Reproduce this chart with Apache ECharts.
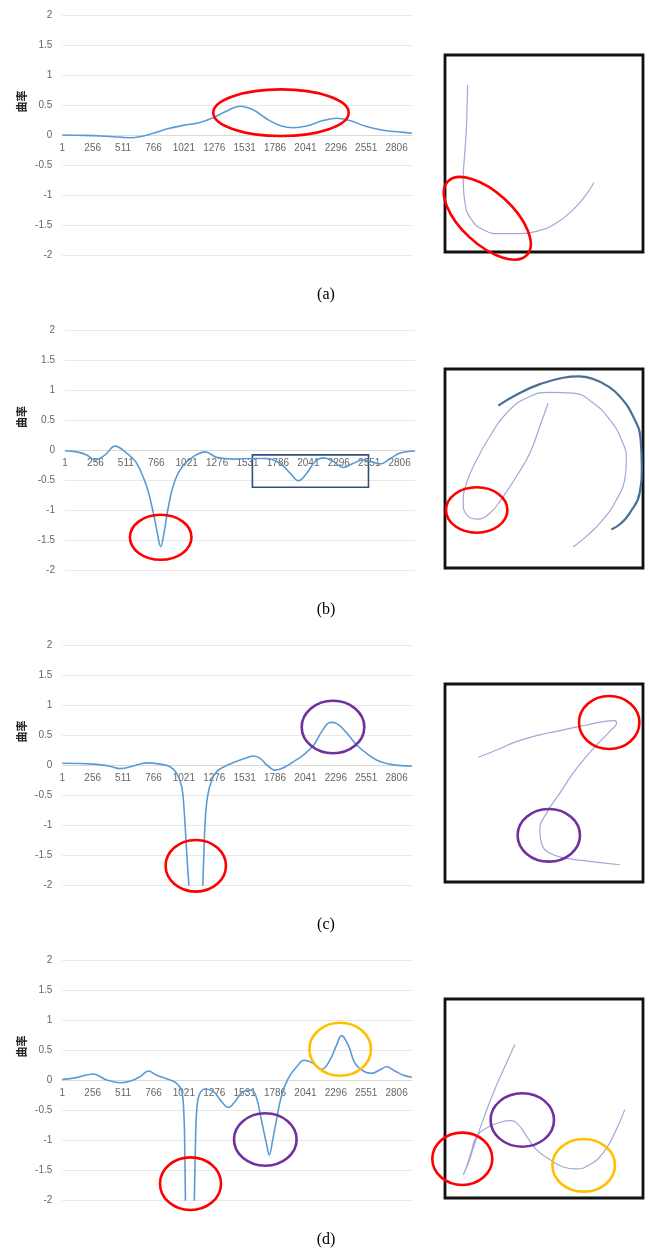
<!DOCTYPE html>
<html><head><meta charset="utf-8">
<script src="https://cdn.jsdelivr.net/npm/echarts@6/dist/echarts.min.js"></script>
<style>html,body{margin:0;padding:0;background:#fff}#c{width:649px;height:1248px}</style>
</head><body><div id="c"></div>
<script>
// ---------------- DATA ----------------
const panelLabels = ['(a)', '(b)', '(c)', '(d)'];
const yAxisTitle = '曲率';
const xRange = [1, 2935];      // point index along the curve
const xLabelStep = 255;        // labels 1, 256, 511 ... 2806
const yRange = [-2, 2];
const yLabelStep = 0.5;

// curvature along the curve (index, curvature)
const curveA = [[1,0],[130,-0.005],[261,-0.01],[400,-0.025],[513,-0.04],[569,-0.045],[650,-0.03],[766,0.03],[876,0.1],[1016,0.16],[1156,0.21],[1268,0.29],[1380,0.4],[1492,0.48],[1602,0.42],[1715,0.27],[1827,0.16],[1939,0.12],[2050,0.15],[2190,0.24],[2302,0.28],[2414,0.24],[2554,0.14],[2694,0.08],[2834,0.05],[2935,0.03]];
const curveB = [[1,0],[99,-0.02],[183,-0.07],[253,-0.155],[337,-0.07],[420,0.077],[518,-0.04],[602,-0.21],[686,-0.6],[742,-1.04],[775,-1.37],[803,-1.6],[831,-1.37],[868,-0.93],[924,-0.49],[994,-0.24],[1077,-0.1],[1175,-0.02],[1273,-0.11],[1413,-0.14],[1581,-0.13],[1693,-0.13],[1804,-0.21],[1888,-0.375],[1958,-0.5],[2028,-0.375],[2098,-0.18],[2168,-0.12],[2252,-0.18],[2330,-0.28],[2420,-0.21],[2503,-0.15],[2643,-0.22],[2727,-0.13],[2811,-0.04],[2935,-0.005]];
const curveC = [[1,0.03],[261,0.015],[401,-0.02],[485,-0.06],[625,0],[709,0.035],[821,0.015],[905,-0.03],[961,-0.14],[1003,-0.36],[1023,-0.75],[1040,-1.3],[1054,-1.75],[1062,-2.0],[1075,-3.2],[1165,-3.2],[1180,-2.0],[1188,-1.53],[1199,-0.97],[1219,-0.53],[1255,-0.25],[1297,-0.11],[1367,-0.02],[1437,0.04],[1549,0.12],[1605,0.15],[1661,0.11],[1717,0],[1787,-0.085],[1857,-0.045],[1941,0.055],[2025,0.17],[2109,0.33],[2179,0.56],[2250,0.71],[2305,0.69],[2389,0.53],[2473,0.33],[2557,0.19],[2641,0.08],[2753,0.01],[2837,-0.01],[2935,-0.02]];
const curveD = [[1,0.01],[121,0.04],[261,0.1],[373,0],[485,-0.045],[569,-0.02],[653,0.055],[723,0.15],[793,0.08],[877,0.02],[961,-0.055],[1003,-0.19],[1020,-0.53],[1028,-1.08],[1034,-2.0],[1045,-3.2],[1098,-3.2],[1109,-2.0],[1118,-1.08],[1128,-0.53],[1150,-0.25],[1198,-0.15],[1268,-0.19],[1338,-0.36],[1394,-0.455],[1450,-0.36],[1520,-0.19],[1590,-0.17],[1632,-0.31],[1674,-0.69],[1716,-1.08],[1738,-1.25],[1766,-1.0],[1800,-0.64],[1842,-0.25],[1898,0.03],[1968,0.22],[2029,0.33],[2094,0.29],[2178,0.18],[2246,0.33],[2302,0.58],[2344,0.74],[2400,0.58],[2456,0.28],[2526,0.15],[2596,0.11],[2666,0.17],[2722,0.22],[2792,0.15],[2862,0.08],[2935,0.045]];
// highlighted range in (b): [x1, y1, x2, y2]
const boxRangeB = [1572, -0.07, 2545, -0.61];

// sketched shapes (normalised 0-100 coordinates inside each square)
const shapeA = [[11.4,84.8],[10.9,65.4],[10.1,51.9],[9.2,36.7],[10.1,24.8],[13.4,16.4],[19.3,11.3],[27.7,9.3],[37.8,9.3],[47.9,11.0],[56.3,14.7],[64.7,21.5],[70.6,28.2],[75.3,35.3]];
const shapeB = [[52.1,82.9],[47.9,71.2],[42.9,57.8],[36.1,46.1],[29.4,36.0],[22.7,27.6],[16.0,24.6],[10.9,26.8],[9.2,32.7],[10.9,42.7],[16.0,54.4],[22.7,66.2],[31.1,77.9],[41.2,85.4],[52.9,88.3],[64.7,87.9],[74.8,82.9],[83.2,74.5],[89.1,64.5],[91.6,54.4],[90.8,44.4],[86.6,34.3],[79.8,24.3],[71.4,15.9],[64.7,10.6]];
const shapeBOuter = [[26.9,81.6],[36.1,87.1],[47.9,92.4],[59.7,95.6],[67.5,96.3],[74.8,95.0],[81.5,91.8],[88.2,86.3],[95.0,76.2],[98.8,64.5],[99.4,51.1],[98.3,37.7],[93.3,27.6],[89.1,22.6],[84.0,19.3]];
const shapeC = [[16.8,63.0],[26.1,66.7],[36.1,70.9],[47.9,74.3],[59.7,76.8],[71.4,79.3],[79.8,81.0],[85.7,81.5],[86.6,80.2],[84.0,76.8],[78.2,70.9],[71.4,63.4],[64.7,55.0],[58.0,44.9],[51.3,34.8],[47.9,26.4],[48.7,19.7],[52.9,14.6],[61.3,12.1],[73.1,10.4],[88.2,8.7]];
const shapeD = [[35.3,77.1],[30.3,66.2],[24.4,52.8],[19.3,39.4],[15.1,27.6],[11.8,17.6],[9.2,11.7],[10.9,15.9],[13.1,22.6],[16.0,31.0],[21.0,35.2],[26.9,37.7],[32.8,38.9],[37.0,36.9],[41.2,31.0],[46.2,24.3],[52.9,19.3],[59.7,15.6],[66.4,14.6],[73.1,16.8],[79.8,22.6],[85.7,32.7],[90.8,44.4]];

// ---------------- LAYOUT / STYLE ----------------
const lineGrids = [
  {left: 62.3, top: 15, width: 349.7, height: 240},
  {left: 65, top: 330.7, width: 350, height: 240},
  {left: 62.3, top: 645, width: 349.7, height: 240},
  {left: 62.3, top: 960, width: 349.7, height: 240}
];
const boxGrids = [
  {left: 445, top: 55, width: 198, height: 197},
  {left: 445, top: 369, width: 198, height: 199},
  {left: 445, top: 684, width: 198, height: 198},
  {left: 445, top: 999, width: 198, height: 199}
];
const RED = '#ff0000', PURPLE = '#7030a0', ORANGE = '#ffc000';
const ellipses = [
  {cx: 281, cy: 112.7, rx: 67.7, ry: 23.3, c: RED},
  {cx: 487.3, cy: 218.3, rx: 54, ry: 26, rot: -0.745, c: RED},
  {cx: 160.7, cy: 537.3, rx: 30.8, ry: 22.5, c: RED},
  {cx: 476.7, cy: 510, rx: 30.7, ry: 22.7, c: RED},
  {cx: 195.8, cy: 865.8, rx: 30.2, ry: 25.8, c: RED},
  {cx: 333, cy: 727, rx: 31.3, ry: 26.3, c: PURPLE},
  {cx: 609.2, cy: 722.5, rx: 30.2, ry: 26.5, c: RED},
  {cx: 548.8, cy: 835.3, rx: 31.2, ry: 26.3, c: PURPLE},
  {cx: 190.5, cy: 1183.7, rx: 30.5, ry: 26.3, c: RED},
  {cx: 265.3, cy: 1139.5, rx: 31.3, ry: 26.2, c: PURPLE},
  {cx: 340.2, cy: 1049.2, rx: 30.8, ry: 26.5, c: ORANGE},
  {cx: 462.3, cy: 1158.8, rx: 30, ry: 26.2, c: RED},
  {cx: 522.3, cy: 1120, rx: 31.7, ry: 26.7, c: PURPLE},
  {cx: 583.7, cy: 1165.3, rx: 31.3, ry: 26.3, c: ORANGE}
];
const panelLabelY = [295, 610, 925, 1240];
const yTitleY = [101.5, 417, 731.5, 1046.5];

const chart = echarts.init(document.getElementById('c'), null, {renderer: 'canvas'});
const grids = [], xAxes = [], yAxes = [], series = [];
const curves = [curveA, curveB, curveC, curveD];
const shapes = [[shapeA], [shapeB, shapeBOuter], [shapeC], [shapeD]];

curves.forEach((cv, i) => {
  grids.push(Object.assign({containLabel: false}, lineGrids[i]));
  const gi = grids.length - 1;
  // the category axis crosses the value axis at 0 (middle of the plot)
  const zeroOffset = -lineGrids[i].height * (0 - yRange[0]) / (yRange[1] - yRange[0]);
  xAxes.push({
    type: 'value', gridIndex: gi, min: xRange[0], max: xRange[1], interval: xLabelStep,
    position: 'bottom', offset: zeroOffset,
    axisLine: {show: true, onZero: false, lineStyle: {color: '#d9d9d9', width: 1}},
    axisTick: {show: false}, splitLine: {show: false},
    axisLabel: {color: '#666', fontSize: 10, fontFamily: 'Liberation Sans', margin: 8,
      showMaxLabel: false, showMinLabel: true, formatter: v => String(v)}
  });
  yAxes.push({
    type: 'value', gridIndex: gi, min: yRange[0], max: yRange[1], interval: yLabelStep,
    axisLine: {show: false}, axisTick: {show: false},
    splitLine: {show: true, lineStyle: {color: '#e8e8e8', width: 1}},
    axisLabel: {color: '#666', fontSize: 10, fontFamily: 'Liberation Sans', margin: 10}
  });
  const s = {
    type: 'line', xAxisIndex: gi, yAxisIndex: gi, data: cv, showSymbol: false,
    smooth: 0.4, clip: true, lineStyle: {color: '#5b9bd5', width: 1.6}, silent: true
  };
  if (i === 1) {
    s.markArea = {
      silent: true,
      itemStyle: {color: 'rgba(0,0,0,0)', borderColor: '#34507a', borderWidth: 1.6},
      data: [[{xAxis: boxRangeB[0], yAxis: boxRangeB[1]}, {xAxis: boxRangeB[2], yAxis: boxRangeB[3]}]]
    };
  }
  series.push(s);

  grids.push(Object.assign({show: true, borderColor: '#111', borderWidth: 2.8, backgroundColor: '#fff'}, boxGrids[i]));
  const bi = grids.length - 1;
  xAxes.push({type: 'value', gridIndex: bi, min: 0, max: 100, show: false});
  yAxes.push({type: 'value', gridIndex: bi, min: 0, max: 100, show: false});
  shapes[i].forEach((sh) => {
    const outer = (sh === shapeBOuter);
    series.push({
      type: 'line', xAxisIndex: bi, yAxisIndex: bi, data: sh, showSymbol: false,
      smooth: 0.5, silent: true,
      lineStyle: outer ? {color: '#46709a', width: 2.2} : {color: '#a3a7d6', width: 1.2}
    });
  });
});

const graphic = [];
ellipses.forEach(e => {
  graphic.push({
    type: 'ellipse', x: e.cx, y: e.cy, rotation: e.rot || 0, z: 100,
    shape: {cx: 0, cy: 0, rx: e.rx, ry: e.ry},
    style: {fill: null, stroke: e.c, lineWidth: 2.6}
  });
});
panelLabels.forEach((t, i) => {
  graphic.push({
    type: 'text', x: 326, y: panelLabelY[i], z: 100,
    style: {text: t, font: '16px "Liberation Serif"', fill: '#000', textAlign: 'center', textVerticalAlign: 'middle'}
  });
  graphic.push({
    type: 'text', x: 22, y: yTitleY[i], rotation: Math.PI / 2, z: 100,
    style: {text: yAxisTitle, font: 'bold 11px "Noto Sans CJK SC"', fill: '#222', textAlign: 'center', textVerticalAlign: 'middle'}
  });
});

chart.setOption({
  animation: false,
  backgroundColor: '#fff',
  grid: grids, xAxis: xAxes, yAxis: yAxes, series: series, graphic: graphic
});
</script></body></html>
